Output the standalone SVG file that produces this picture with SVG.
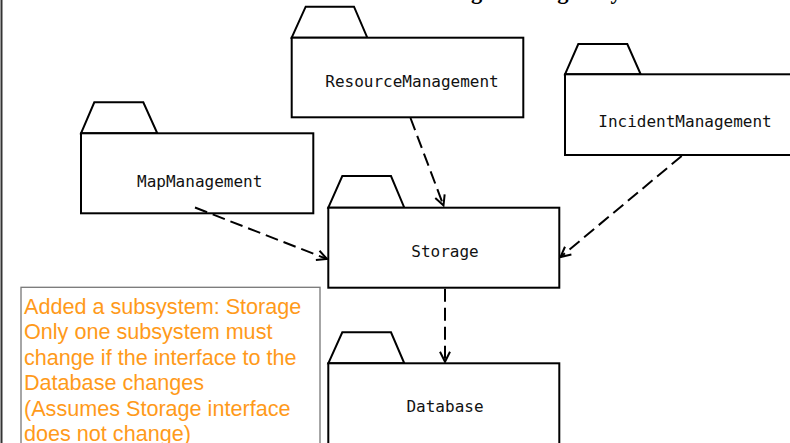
<svg xmlns="http://www.w3.org/2000/svg" width="790" height="443" viewBox="0 0 790 443">
<style>
.pkg{fill:#fff;stroke:#000;stroke-width:2;stroke-linejoin:miter}
.lbl{font-family:"DejaVu Sans Mono",monospace;font-size:16px;fill:#111;text-anchor:middle}
.dep{fill:none;stroke:#000;stroke-width:2;stroke-dasharray:13 6}
.note{font-family:"Liberation Sans",Arial,sans-serif;font-size:21.6px;fill:#ff9a1a}
</style>
<defs>
<marker id="open" markerUnits="userSpaceOnUse" markerWidth="14" markerHeight="14" refX="11" refY="6" orient="auto" viewBox="0 0 14 12">
<path d="M1,1 L11,6 L1,11" fill="none" stroke="#000" stroke-width="2"/>
</marker>
</defs>
<rect width="790" height="443" fill="#fff"/>
<line x1="1.5" y1="0" x2="1.5" y2="443" stroke="#333" stroke-width="2"/>
<text x="411" y="-1.5" font-family="Liberation Serif,serif" font-weight="bold" font-size="22.5" fill="#000">Adding a Storage Layer</text>

<g id="ResourceManagement">
<path class="pkg" d="M291.7,37.7 L305.7,6.7 L354,6.7 L367.3,37.7 Z"/>
<rect class="pkg" x="291.7" y="37.7" width="231.6" height="79.6"/>
<text class="lbl" x="412" y="87.3">ResourceManagement</text>
</g>
<g id="IncidentManagement">
<path class="pkg" d="M565,74.3 L578.3,44 L627.3,44 L640.7,74.3 Z"/>
<rect class="pkg" x="565" y="74.3" width="232" height="80.7"/>
<text class="lbl" x="685" y="126.7">IncidentManagement</text>
</g>
<g id="MapManagement">
<path class="pkg" d="M81,133.3 L94.3,102.3 L143.3,102.3 L157.3,133.3 Z"/>
<rect class="pkg" x="81" y="133.3" width="232.3" height="80"/>
<text class="lbl" x="199.7" y="186.7">MapManagement</text>
</g>
<g id="Storage">
<path class="pkg" d="M328.3,207.7 L342.3,176 L391,176 L404.3,207.7 Z"/>
<rect class="pkg" x="328.3" y="207.7" width="231" height="80"/>
<text class="lbl" x="445" y="257.3">Storage</text>
</g>
<g id="Database">
<path class="pkg" d="M328.3,363.3 L342.3,332.3 L391,332.3 L404.3,363.3 Z"/>
<rect class="pkg" x="328.3" y="363.3" width="231" height="100"/>
<text class="lbl" x="445" y="411.7">Database</text>
</g>

<g id="connectors">
<line class="dep" x1="410.5" y1="118" x2="443.5" y2="205.5" marker-end="url(#open)"/>
<line class="dep" x1="195" y1="207.5" x2="327" y2="259" marker-end="url(#open)"/>
<line class="dep" x1="681.7" y1="156" x2="560.5" y2="257" marker-end="url(#open)"/>
<line class="dep" x1="445" y1="288.7" x2="445" y2="361.7" marker-end="url(#open)"/>
</g>

<g id="note">
<rect x="21" y="287.3" width="299" height="170" fill="#fff" stroke="#777" stroke-width="1.3"/>
<text class="note" x="24" y="313.5">Added a subsystem: Storage</text>
<text class="note" x="24" y="339">Only one subsystem must</text>
<text class="note" x="24" y="364.5">change if the interface to the</text>
<text class="note" x="24" y="390">Database changes</text>
<text class="note" x="24" y="415.5">(Assumes Storage interface</text>
<text class="note" x="24" y="441">does not change)</text>
</g>
</svg>
